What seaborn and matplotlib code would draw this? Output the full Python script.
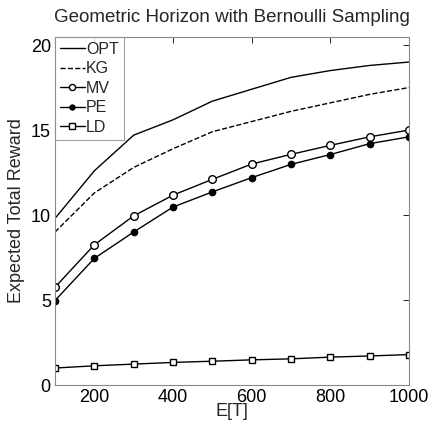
import numpy as np
import pandas as pd
import matplotlib
matplotlib.use("Agg")
import matplotlib.pyplot as plt
import seaborn as sns

# horizon values
horizon = [100, 200, 300, 400, 500, 600, 700, 800, 900, 1000]

# expected total reward per policy
opt = [9.8, 12.6, 14.7, 15.6, 16.7, 17.4, 18.1, 18.5, 18.8, 19.0]
kg = [9.0, 11.3, 12.8, 13.9, 14.9, 15.5, 16.1, 16.6, 17.1, 17.5]
mv = [5.75, 8.25, 9.95, 11.17, 12.1, 13.0, 13.57, 14.1, 14.6, 15.0]
pe = [4.97, 7.45, 9.0, 10.47, 11.36, 12.2, 12.98, 13.56, 14.2, 14.6]
ld = [1.0, 1.13, 1.23, 1.33, 1.4, 1.48, 1.54, 1.64, 1.71, 1.79]

sns.set_style("white")
plt.rcParams["font.family"] = ["Liberation Sans", "DejaVu Sans"]
plt.rcParams["xtick.direction"] = "in"
plt.rcParams["ytick.direction"] = "in"

fig = plt.figure(figsize=(4.31, 4.26), dpi=100)
ax = fig.add_axes([0.1276, 0.0962, 0.8214, 0.8168])

styles = [
    ("OPT", opt, dict(linestyle="-", marker=None)),
    ("KG", kg, dict(linestyle="--", marker=None)),
    ("MV", mv, dict(linestyle="-", marker="o", markerfacecolor="white", markersize=5.5)),
    ("PE", pe, dict(linestyle="-", marker="o", markerfacecolor="black", markersize=4.5)),
    ("LD", ld, dict(linestyle="-", marker="s", markerfacecolor="white", markersize=5)),
]

for name, values, kw in styles:
    df = pd.DataFrame({"E[T]": horizon, "reward": values})
    sns.lineplot(data=df, x="E[T]", y="reward", ax=ax, color="black", linewidth=1.0,
                 markeredgecolor="black", markeredgewidth=1.0, label=name, **kw)

ax.set_xlim(100, 1000)
ax.set_ylim(0, 20.47)
ax.set_xticks([200, 400, 600, 800, 1000])
ax.set_yticks([0, 5, 10, 15, 20])
ax.tick_params(axis="both", labelsize=13, length=4, width=0.6, colors="black",
               top=True, right=True, direction="in")
ax.tick_params(axis="x", pad=3)
ax.tick_params(axis="y", pad=3)
for spine in ax.spines.values():
    spine.set_color("#888888")
    spine.set_linewidth(0.8)

ax.set_xlabel("E[T]", fontsize=13, labelpad=-2)
ax.set_ylabel("Expected Total Reward", fontsize=13, labelpad=4)
ax.set_title("Geometric Horizon with Bernoulli Sampling", fontsize=13.5, pad=11)

leg = ax.legend(loc="upper left", fontsize=11.5, frameon=True, fancybox=False,
                borderaxespad=0.0, handlelength=1.55, handletextpad=0.1,
                labelspacing=0.28, borderpad=0.3, markerscale=0.8)
leg.get_frame().set_edgecolor("#888888")
leg.get_frame().set_linewidth(0.8)

fig.savefig("out.png", dpi=100)
